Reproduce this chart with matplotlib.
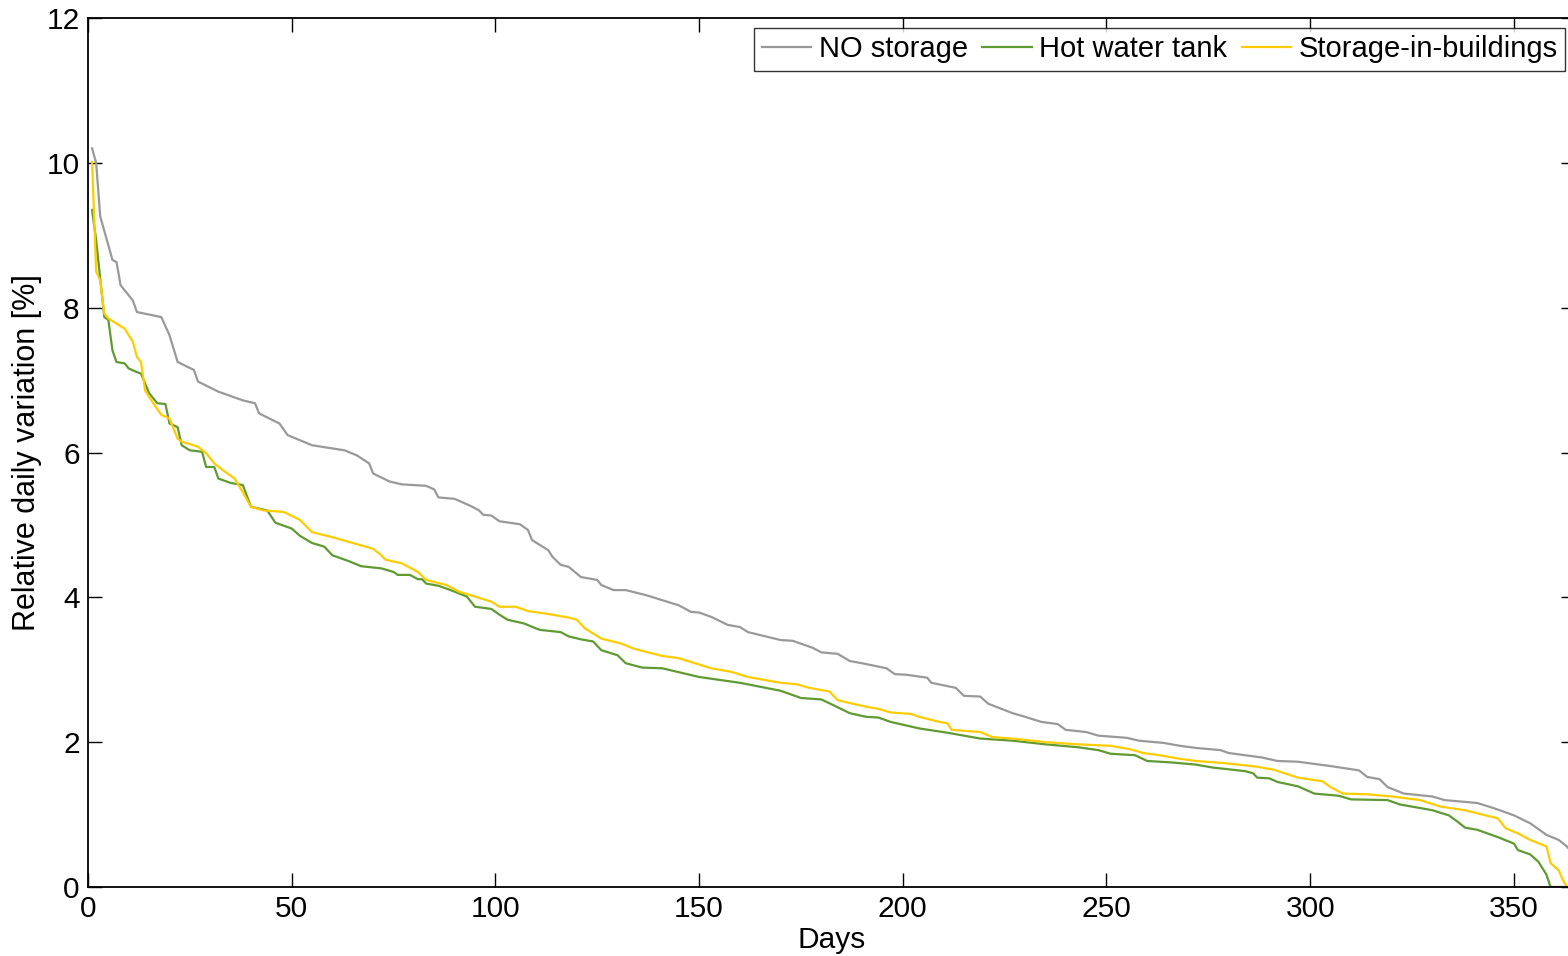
import numpy as np
import matplotlib
matplotlib.use("Agg")
import matplotlib.pyplot as plt

plt.rcParams['font.family'] = ['Liberation Sans', 'DejaVu Sans']

# (day, relative daily variation %)
no_storage = [(1, 10.2), (2, 10.0), (3, 9.26), (6, 8.66), (7, 8.63), (8, 8.31), (11, 8.1), (12, 7.94),
              (18, 7.87), (20, 7.62), (22, 7.25), (26, 7.14), (27, 6.98), (32, 6.84), (38, 6.72),
              (41, 6.68), (42, 6.54), (47, 6.4), (49, 6.24), (55, 6.1), (63, 6.03), (66, 5.96),
              (69, 5.85), (70, 5.71), (74, 5.6), (77, 5.56), (83, 5.54), (85, 5.49), (86, 5.38),
              (90, 5.36), (94, 5.26), (96, 5.2), (97, 5.14), (99, 5.13), (101, 5.05), (106, 5.01),
              (108, 4.93), (109, 4.79), (113, 4.65), (114, 4.56), (116, 4.45), (118, 4.42), (121, 4.28),
              (125, 4.24), (126, 4.17), (129, 4.1), (132, 4.1), (137, 4.03), (141, 3.96), (145, 3.89),
              (148, 3.8), (150, 3.79), (153, 3.73), (157, 3.62), (160, 3.59), (162, 3.52), (170, 3.41),
              (173, 3.4), (178, 3.3), (180, 3.24), (184, 3.22), (187, 3.12), (190, 3.09), (196, 3.02),
              (198, 2.94), (201, 2.93), (206, 2.89), (207, 2.82), (213, 2.75), (215, 2.64), (219, 2.63),
              (221, 2.53), (227, 2.4), (230, 2.35), (234, 2.28), (238, 2.25), (240, 2.17), (245, 2.14),
              (248, 2.09), (255, 2.06), (258, 2.02), (264, 1.99), (268, 1.95), (272, 1.92), (278, 1.89),
              (280, 1.85), (284, 1.82), (288, 1.79), (292, 1.74), (297, 1.73), (305, 1.67), (312, 1.61),
              (314, 1.52), (317, 1.49), (319, 1.38), (323, 1.29), (330, 1.25), (333, 1.2), (341, 1.16),
              (345, 1.09), (350, 0.99), (354, 0.88), (358, 0.72), (361, 0.65), (363, 0.56), (365, 0.42)]

hot_water_tank = [(1, 9.35), (2, 8.93), (4, 7.87), (5, 7.83), (6, 7.41), (7, 7.25), (9, 7.23), (10, 7.16),
                  (12, 7.11), (13, 7.09), (15, 6.82), (17, 6.68), (19, 6.67), (20, 6.4), (22, 6.35),
                  (23, 6.1), (25, 6.03), (28, 6.01), (29, 5.8), (31, 5.8), (32, 5.64), (35, 5.58),
                  (38, 5.55), (40, 5.25), (44, 5.2), (46, 5.03), (50, 4.95), (52, 4.85), (55, 4.75),
                  (58, 4.7), (60, 4.58), (64, 4.5), (67, 4.43), (72, 4.4), (75, 4.35), (76, 4.31),
                  (79, 4.31), (81, 4.25), (82, 4.25), (83, 4.19), (86, 4.16), (89, 4.1), (93, 4.01),
                  (95, 3.87), (99, 3.84), (101, 3.76), (103, 3.69), (107, 3.64), (110, 3.57), (111, 3.55),
                  (116, 3.52), (118, 3.46), (121, 3.42), (124, 3.39), (126, 3.27), (130, 3.2), (132, 3.09),
                  (136, 3.03), (141, 3.02), (150, 2.9), (160, 2.82), (170, 2.71), (173, 2.65), (175, 2.61),
                  (180, 2.59), (183, 2.51), (187, 2.4), (191, 2.35), (194, 2.34), (197, 2.28), (204, 2.19),
                  (211, 2.13), (219, 2.05), (227, 2.02), (235, 1.97), (243, 1.93), (248, 1.89), (251, 1.84),
                  (257, 1.82), (260, 1.74), (266, 1.72), (272, 1.69), (276, 1.65), (284, 1.6), (286, 1.57),
                  (287, 1.51), (290, 1.5), (292, 1.45), (297, 1.39), (301, 1.29), (307, 1.26), (310, 1.21),
                  (319, 1.2), (322, 1.14), (325, 1.11), (330, 1.06), (334, 0.99), (336, 0.91), (338, 0.82),
                  (341, 0.79), (346, 0.69), (350, 0.6), (351, 0.51), (354, 0.45), (356, 0.35), (358, 0.17),
                  (359, 0.0), (365, 0.0)]

storage_in_buildings = [(1, 10.01), (2, 8.5), (3, 8.38), (4, 7.92), (5, 7.85), (9, 7.71), (11, 7.53),
                        (12, 7.32), (13, 7.25), (14, 6.86), (16, 6.68), (18, 6.52), (20, 6.47), (22, 6.19),
                        (23, 6.15), (27, 6.08), (29, 5.99), (31, 5.85), (33, 5.76), (36, 5.64), (38, 5.45),
                        (40, 5.25), (43, 5.2), (48, 5.18), (52, 5.07), (55, 4.9), (60, 4.83), (65, 4.75),
                        (70, 4.67), (72, 4.58), (73, 4.52), (77, 4.47), (81, 4.35), (83, 4.24), (88, 4.17),
                        (91, 4.08), (95, 4.01), (99, 3.94), (101, 3.87), (105, 3.87), (108, 3.81), (113, 3.77),
                        (118, 3.72), (120, 3.69), (122, 3.57), (126, 3.43), (131, 3.36), (134, 3.29),
                        (141, 3.19), (145, 3.16), (149, 3.09), (153, 3.02), (158, 2.97), (162, 2.9),
                        (170, 2.82), (174, 2.8), (177, 2.75), (182, 2.7), (184, 2.58), (187, 2.54),
                        (191, 2.49), (194, 2.46), (197, 2.41), (202, 2.39), (204, 2.35), (209, 2.28),
                        (211, 2.26), (212, 2.17), (219, 2.14), (222, 2.07), (227, 2.05), (235, 2.0),
                        (243, 1.97), (251, 1.95), (256, 1.9), (259, 1.85), (263, 1.82), (268, 1.77),
                        (272, 1.74), (279, 1.71), (284, 1.68), (287, 1.66), (291, 1.62), (297, 1.51),
                        (303, 1.46), (305, 1.38), (308, 1.29), (314, 1.28), (320, 1.25), (327, 1.2),
                        (332, 1.11), (338, 1.06), (343, 0.99), (346, 0.95), (348, 0.81), (351, 0.74),
                        (354, 0.65), (358, 0.56), (359, 0.33), (361, 0.23), (362, 0.1), (363, 0.0), (365, 0.0)]

labels = ['NO storage', 'Hot water tank', 'Storage-in-buildings']
colors = ['#999999', '#5f9a32', '#ffcc00']

fig = plt.figure(figsize=(15.68, 9.56), dpi=100)
# right spine sits just past the image edge, like the reference crop
ax = fig.add_axes([88/1568, 69/956, 1487/1568, 869/956])

for series, lab, col in zip([no_storage, hot_water_tank, storage_in_buildings], labels, colors):
    d = np.array(series)
    ax.plot(d[:, 0], d[:, 1], color=col, lw=1.6, label=lab)

ax.set_xlim(0, 365)
ax.set_ylim(0, 12)
ax.set_xticks(np.arange(0, 351, 50))
ax.set_yticks(np.arange(0, 13, 2))
ax.tick_params(direction='in', length=10, width=1, top=True, right=True, labelsize=21.5, pad=6)
for s in ax.spines.values():
    s.set_linewidth(1.3)

ax.set_xlabel('Days', fontsize=21.5, labelpad=2)
ax.set_ylabel('Relative daily variation [%]', fontsize=22, labelpad=3)

leg = ax.legend(loc='upper right', bbox_to_anchor=(1565/1568, 1 - 28/956), bbox_transform=fig.transFigure,
                ncol=3, fontsize=21, frameon=True, fancybox=False, edgecolor='black',
                borderaxespad=0, borderpad=0.25, handlelength=1.7, handletextpad=0.25,
                columnspacing=0.5)
leg.get_frame().set_linewidth(1.0)

fig.savefig('out.png', dpi=100)
